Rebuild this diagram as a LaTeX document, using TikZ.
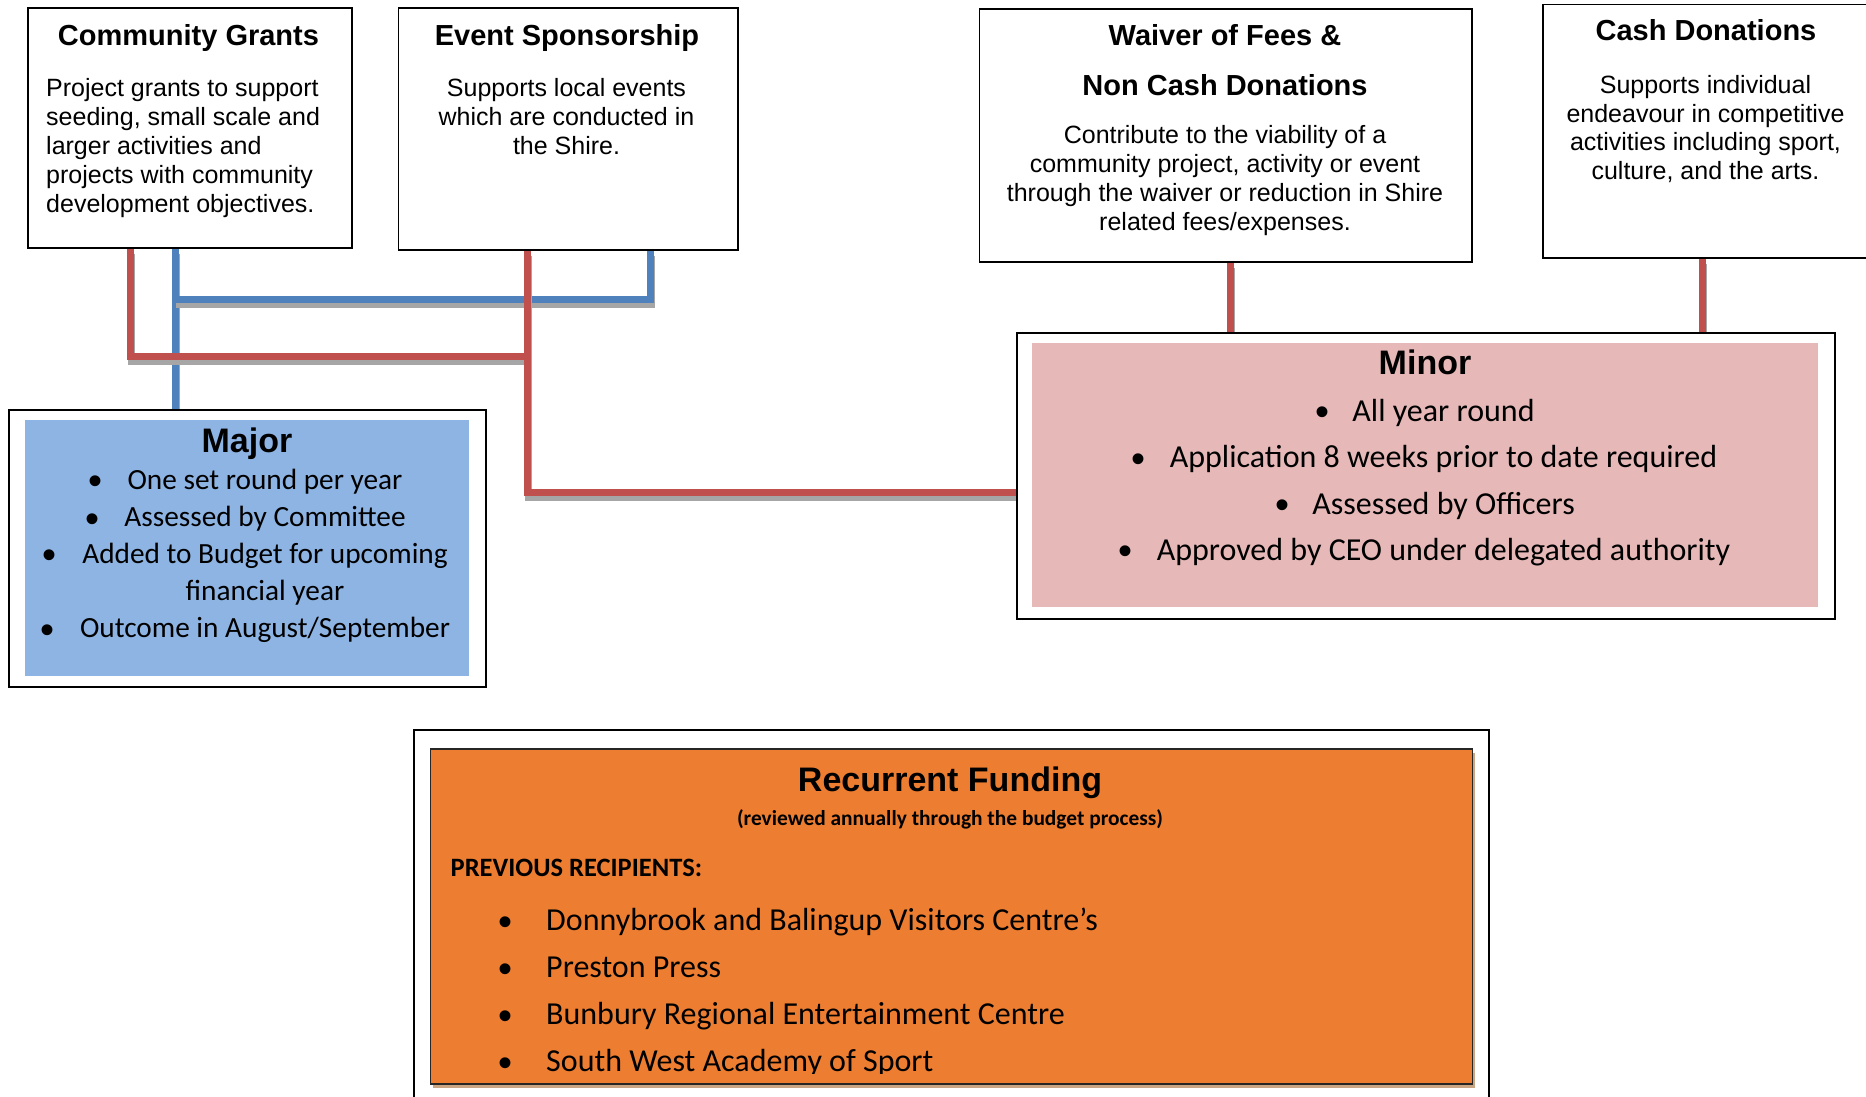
\documentclass[tikz,border=0pt]{standalone}
\usepackage{fontspec}
\setmainfont{Liberation Sans}
\newfontfamily\calib{Carlito}
\usetikzlibrary{calc}
\definecolor{redln}{HTML}{C0504D}
\definecolor{blueln}{HTML}{4F81BD}
\definecolor{majorfill}{HTML}{8EB4E3}
\definecolor{minorfill}{HTML}{E6B9B8}
\definecolor{orangefill}{HTML}{ED7D31}
\definecolor{lnshadow}{HTML}{A6A6A6}
\definecolor{orshadow}{HTML}{C9A584}
\pgfdeclarelayer{back}
\pgfdeclarelayer{bg}
\pgfsetlayers{back,bg,main}
\begin{document}
\begin{tikzpicture}[x=1pt,y=-1pt,
  box/.style={draw=black,line width=1.8pt,fill=white,inner sep=0pt,anchor=north west},
  panel/.style={inner sep=0pt,anchor=north west,draw=none},
  ttl/.style={font=\bfseries\fontsize{29}{29}\selectfont,inner sep=0pt,anchor=base},
  bdy/.style={font=\fontsize{25}{29}\selectfont,inner sep=0pt,anchor=base},
  bdyl/.style={bdy,anchor=base west},
  bigttl/.style={font=\bfseries\fontsize{34}{34}\selectfont,inner sep=0pt,anchor=base},
  majitem/.style={font=\calib\fontsize{29.3}{29.3}\selectfont,inner sep=0pt,anchor=base},
  minitem/.style={font=\calib\fontsize{32}{32}\selectfont,inner sep=0pt,anchor=base},
  recitem/.style={font=\calib\fontsize{32}{32}\selectfont,inner sep=0pt,anchor=base west},
  bul/.style={font=\fontsize{40}{40}\selectfont,inner sep=0pt,anchor=north},
  redc/.style={draw=redln,line width=7pt,preaction={draw=lnshadow,line width=7pt,transform canvas={shift={(1,5)}}}},
  bluec/.style={draw=blueln,line width=7pt,preaction={draw=lnshadow,line width=7pt,transform canvas={shift={(1,5)}}}},
]
\useasboundingbox (0,0) rectangle (1866,1096);
\clip (0,0) rectangle (1866,1096);
\begin{pgfonlayer}{back}
\fill[white] (0,0) rectangle (1866,1096);
\end{pgfonlayer}

% ---------- top boxes ----------
\node[box,minimum width=324,minimum height=240] (cg) at (27,7) {};
\node[ttl] (cgT) at (188.5,45) {Community Grants};
\node[bdyl] (cgL1) at (46,96) {Project grants to support};
\node[bdyl] (cgL2) at (46,125) {seeding, small scale and};
\node[bdyl] (cgL3) at (46,154) {larger activities and};
\node[bdyl] (cgL4) at (46,183) {projects with community};
\node[bdyl] (cgL5) at (46,212) {development objectives.};

\node[box,minimum width=339.5,minimum height=242] (es) at (397.5,7) {};
\node[ttl] (esT) at (567,45) {Event Sponsorship};
\node[bdy] (esL1) at (566.5,96) {Supports local events};
\node[bdy] (esL2) at (566.5,125) {which are conducted in};
\node[bdy] (esL3) at (566.5,154) {the Shire.};

\node[box,minimum width=492.5,minimum height=253] (wv) at (978.5,8) {};
\node[ttl] (wvT1) at (1225,45) {Waiver of Fees \&};
\node[ttl] (wvT2) at (1225,95) {Non Cash Donations};
\node[bdy] (wvL1) at (1225,143) {Contribute to the viability of a};
\node[bdy] (wvL2) at (1225,172) {community project, activity or event};
\node[bdy] (wvL3) at (1225,201) {through the waiver or reduction in Shire};
\node[bdy] (wvL4) at (1225,230) {related fees/expenses.};

\node[box,minimum width=400,minimum height=253.5] (cd) at (1542,3.5) {};
\node[ttl] (cdT) at (1706,40) {Cash Donations};
\node[bdy] (cdL1) at (1705.5,93) {Supports individual};
\node[bdy] (cdL2) at (1705.5,122) {endeavour in competitive};
\node[bdy] (cdL3) at (1705.5,150) {activities including sport,};
\node[bdy] (cdL4) at (1705.5,179) {culture, and the arts.};

% ---------- Major ----------
\node[box,line width=2pt,minimum width=477,minimum height=277] (major) at (8,409) {};
\node[panel,fill=majorfill,minimum width=444,minimum height=256] (majorIn) at (25,420) {};
\node[bigttl] (majorT) at (247,452) {Major};
\node[majitem] (maj1) at (265,489) {One set round per year};
\node[majitem] (maj2) at (265,526.5) {Assessed by Committee};
\node[majitem] (maj3) at (265,563) {Added to Budget for upcoming};
\node[majitem] (maj3b) at (265,600) {financial year};
\node[majitem] (maj4) at (265,637.5) {Outcome in August/September};
\node[bul] (majB1) at (96,476) {•};
\node[bul] (majB2) at (92.5,513.5) {•};
\node[bul] (majB3) at (50,550) {•};
\node[bul] (majB4) at (48,624.5) {•};

% ---------- Minor ----------
\node[box,line width=2pt,minimum width=818,minimum height=286] (minor) at (1016,332) {};
\node[panel,fill=minorfill,minimum width=786,minimum height=264] (minorIn) at (1032,343) {};
\node[bigttl] (minorT) at (1425,374) {Minor};
\node[minitem] (min1) at (1443.5,421) {All year round};
\node[minitem] (min2) at (1443.5,467.5) {Application 8 weeks prior to date required};
\node[minitem] (min3) at (1443.5,514) {Assessed by Officers};
\node[minitem] (min4) at (1443.5,560) {Approved by CEO under delegated authority};
\node[bul] (minB1) at (1322,407) {•};
\node[bul] (minB2) at (1138,453.5) {•};
\node[bul] (minB3) at (1282,500) {•};
\node[bul] (minB4) at (1125,546) {•};

% ---------- Recurrent ----------
\node[box,line width=1.8pt,minimum width=1075,minimum height=400] (rec) at (413,729) {};
\fill[orshadow] (432.5,753) rectangle (1475,1088);
\node[panel,draw=black!85,line width=1.8pt,fill=orangefill,minimum width=1042,minimum height=335] (recIn) at (429.5,748) {};
\begin{scope}
\clip (429.5,748) rectangle (1472,1073);
\node[bigttl] (recT) at (950,791) {Recurrent Funding};
\node[font=\calib\bfseries\fontsize{21.4}{21.4}\selectfont,inner sep=0pt,anchor=base] (recS) at (950,825) {(reviewed annually through the budget process)};
\node[font=\calib\bfseries\fontsize{26.5}{26.5}\selectfont,inner sep=0pt,anchor=base west] (recP) at (450.5,876) {PREVIOUS RECIPIENTS:};
\node[recitem] (rec1) at (546,930) {Donnybrook and Balingup Visitors Centre’s};
\node[recitem] (rec2) at (546,977) {Preston Press};
\node[recitem] (rec3) at (546,1024) {Bunbury Regional Entertainment Centre};
\node[recitem] (rec4) at (546,1071) {South West Academy of Sport};
\node[bul] (recB1) at (505,916.5) {•};
\node[bul] (recB2) at (505,963.5) {•};
\node[bul] (recB3) at (505,1010.5) {•};
\node[bul] (recB4) at (505,1057.5) {•};
\end{scope}

% ---------- connectors ----------
\coordinate (xcgR) at (130,0);
\coordinate (xcgB) at (175,0);
\coordinate (xesR) at (527,0);
\coordinate (xesB) at (650,0);
\coordinate (xwv) at (1230,0);
\coordinate (xcd) at (1702,0);
\coordinate (jB) at (175,299);
\coordinate (jR1) at (130,356);
\coordinate (jR2) at (527,356);
\coordinate (jR3) at (527,492);
\begin{pgfonlayer}{bg}
\draw[bluec] (cg.south -| xcgB) -- (major.north -| xcgB);
\draw[bluec] (jB) -- (jB -| xesB) -- (es.south -| xesB);
\draw[redc] (cg.south -| xcgR) -- (jR1) -- (jR2);
\draw[redc] (es.south -| xesR) -- (jR3) -- (jR3 -| minor.west);
\draw[redc] (wv.south -| xwv) -- (minor.north -| xwv);
\draw[redc] (cd.south -| xcd) -- (minor.north -| xcd);
\end{pgfonlayer}
\end{tikzpicture}
\end{document}
